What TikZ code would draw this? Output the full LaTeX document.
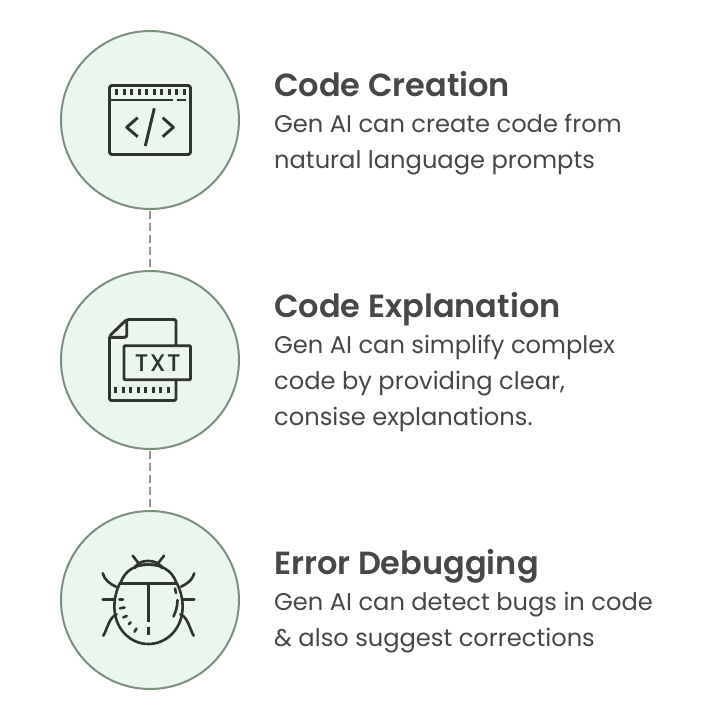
\documentclass[tikz,border=0pt]{standalone}
\usepackage{fontspec}
\setmainfont{Poppins}
\newfontfamily\semifont{Poppins SemiBold}
\newfontfamily\tagfont[LetterSpace=6]{Poppins Medium}
\definecolor{disc}{HTML}{EBF6EE}
\definecolor{ring}{HTML}{7A917D}
\definecolor{dash}{HTML}{8A9A8C}
\definecolor{ink}{HTML}{2F342F}
\definecolor{txt}{HTML}{474747}
\tikzset{
  x=1pt,y=-1pt,
  step disc/.style={circle,draw=ring,fill=disc,line width=2pt,minimum size=178pt,inner sep=0pt},
  link/.style={draw=dash,line width=1.6pt,dash pattern=on 7.5pt off 4.5pt},
  icon/.style={draw=ink,line width=2.9pt,line cap=butt,line join=round},
  thin icon/.style={draw=ink,line width=2.6pt,line cap=round,line join=round},
  head/.style={anchor=base west,inner sep=0pt,text=txt,font=\semifont\fontsize{32}{32}\selectfont},
  body/.style={anchor=base west,inner sep=0pt,text=txt,font=\fontsize{24.15}{24.15}\selectfont},
}
\begin{document}
\begin{tikzpicture}
\useasboundingbox (0,0) rectangle (720,720);
\fill[white] (0,0) rectangle (720,720);
\node[step disc] (c1) at (150,120) {};
\node[step disc] (c2) at (150,360) {};
\node[step disc] (c3) at (150,600) {};
\coordinate (l1a) at (150,211); \coordinate (l1b) at (150,270);
\coordinate (l2a) at (150,451); \coordinate (l2b) at (150,510);
\draw[link] (l1a) -- (l1b);
\draw[link] (l2a) -- (l2b);
% icon 1
\draw[icon,rounded corners=2.5pt] (109.5,85.5) rectangle (190.5,154.5);
\draw[icon] (109.5,100) -- (173,100);
\draw[icon] (177,100) -- (186,100);
\foreach \i in {0,...,9} \draw[ink,line width=2.8pt] ({116.7+7.5*\i},89) -- ({116.7+7.5*\i},95);
\draw[icon] (137.7,117.7) -- (126.7,127.3) -- (137.7,136.7);
\draw[icon] (162.7,117.7) -- (173.3,127.3) -- (162.7,136.7);
\draw[icon] (154.3,108.3) -- (145.3,146);
% icon 2
\draw[icon,rounded corners=2pt] (176,345.7) -- (176,319.5) -- (126.7,319.5) -- (109.5,336) -- (109.5,400.5) -- (176,400.5) -- (176,379.7);
\draw[icon,rounded corners=2pt] (126.7,319.5) -- (126.7,337.3) -- (109.5,337.3);
\draw[icon,rounded corners=1pt] (124,345.7) rectangle (190.5,379.7);
\node[inner sep=0pt,text=ink,font=\tagfont\fontsize{24}{24}\selectfont] (ttxt) at (157.7,362.7) {TXT};
\foreach \i in {0,...,7} \draw[ink,line width=2.8pt] ({115.7+7.5*\i},387) -- ({115.7+7.5*\i},393);
% icon 3
\draw[icon] (120,583.3) -- (176.7,583.3);
\draw[icon] (148.3,583.3) -- (148.3,622.3);
\draw[icon] (148.3,626.7) -- (148.3,635);
\draw[thin icon] (120.5,583) .. controls (125,570) and (136,564.5) .. (148.3,564.5) .. controls (161,564.5) and (172,570) .. (176.5,583);
\draw[thin icon] (120,583) .. controls (115,593) and (114,603) .. (114.5,610) .. controls (116,630) and (131,644) .. (148.3,644) .. controls (166,644) and (181,630) .. (182.5,610) .. controls (183,603) and (182,593) .. (176.7,583);
\draw[thin icon] (135,568) .. controls (138,558.5) and (158,558.5) .. (162,568);
\draw[thin icon] (135,566.5) .. controls (141,564) and (156,564) .. (162,566.5);
\draw[thin icon] (140,565) -- (132.7,555.7);
\draw[thin icon] (156.7,565) -- (164,555.7);
\draw[thin icon] (116,586.7) .. controls (110,584) and (104.5,580) .. (102.7,573.3);
\draw[thin icon] (181,586.7) .. controls (187,584) and (192.5,580) .. (194.3,573.3);
\draw[thin icon] (114.5,599.3) -- (102.7,599.3);
\draw[thin icon] (182.5,599.3) -- (194.3,599.3);
\draw[thin icon] (116.7,614.3) .. controls (109,617) and (107,630) .. (103.3,635.7);
\draw[thin icon] (180.3,614.3) .. controls (188,617) and (190,630) .. (193.7,635.7);
\draw[thin icon] (119.5,599.3) -- (123,599.3);
\draw[thin icon] (120,608.3) -- (124.5,607.5);
\draw[thin icon] (123.3,617.3) -- (126.7,616);
\draw[thin icon] (128.7,624.3) -- (130.7,622.3);
\draw[thin icon] (134.5,631.7) -- (136.5,628.5);
\draw[thin icon] (175,588.5) -- (176,593);
\draw[thin icon] (177.5,600) .. controls (177.5,607) and (175.5,612) .. (173.5,616.5);
% text
\node[head] (t1) at (274,96) {Code Creation};
\node[body] (b11) at (274,132) {Gen AI can create code from};
\node[body] (b12) at (274,168) {natural language prompts};
\node[head] (t2) at (274,317) {Code Explanation};
\node[body] (b21) at (274,353) {Gen AI can simplify complex};
\node[body] (b22) at (274,389) {code by providing clear,};
\node[body] (b23) at (274,425) {consise explanations.};
\node[head] (t3) at (274,574.5) {Error Debugging};
\node[body] (b31) at (274,610.5) {Gen AI can detect bugs in code};
\node[body] (b32) at (274,646.5) {\&{} also suggest corrections};
\end{tikzpicture}
\end{document}
